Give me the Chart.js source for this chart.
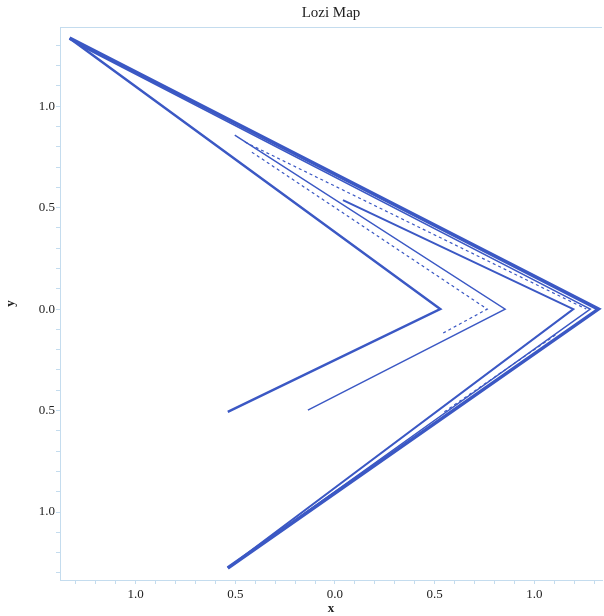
<!DOCTYPE html>
<html>
<head>
<meta charset="utf-8">
<title>Lozi Map</title>
<script src="https://cdn.jsdelivr.net/npm/chart.js@4/dist/chart.umd.min.js"></script>
<style>
  html, body { margin: 0; padding: 0; background: #fff; }
  #wrap { width: 604px; height: 616px; }
</style>
</head>
<body>
<div id="wrap"><canvas id="lozi" width="604" height="616"></canvas></div>
<script>
// strands of the attractor as [x, y]
var outerArm   = [[-1.332, 1.335], [1.322, 0], [-0.538, -1.276]];
var outerArm2  = [[-1.281, 1.300], [1.281, 0], [-0.523, -1.266]];
var innerArm   = [[-1.332, 1.335], [0.528, 0], [-0.538, -0.507]];
var midArm     = [[0.040, 0.537], [1.196, 0], [-0.538, -1.276]];
var thinArm    = [[-0.503, 0.857], [0.854, 0], [-0.136, -0.498]];
var dashedArm  = [[-0.417, 0.773], [0.764, 0], [0.543, -0.118]];
var topDashed  = [[-0.452, 0.823], [1.261, 0]];
var lowDashed  = [[1.106, -0.128], [0.548, -0.507]];

var xRange = [-1.38, 1.34];
var yRange = [-1.335, 1.39];
var labelStep = 0.5;

!function() {
    "use strict";

    var blue = "#3b58c4";
    var axisBlue = "#c4dcee";
    var serif = "'Liberation Serif', 'DejaVu Serif', serif";

    function pts(arr) {
        return arr.map(function(p) { return {x: p[0], y: p[1]}; });
    }

    function strand(arr, width, dash) {
        return {
            data: pts(arr),
            showLine: true,
            borderColor: blue,
            backgroundColor: blue,
            borderWidth: width,
            borderDash: dash || [],
            pointRadius: 0,
            tension: 0
        };
    }

    function tickLabel(v) {
        var k = v / labelStep;
        if (Math.abs(k - Math.round(k)) < 1e-6) return Math.abs(v).toFixed(1);
        return "";
    }

    // title centred over the plot area, plus the thin top frame line
    var framePlugin = {
        id: "frame",
        afterDraw: function(chart) {
            var ctx = chart.ctx, a = chart.chartArea;
            ctx.save();
            ctx.strokeStyle = axisBlue;
            ctx.lineWidth = 1;
            ctx.beginPath();
            ctx.moveTo(a.left, a.top + 0.5);
            ctx.lineTo(a.right, a.top + 0.5);
            ctx.stroke();
            ctx.fillStyle = "#222";
            ctx.font = "15px " + serif;
            ctx.textAlign = "center";
            ctx.textBaseline = "middle";
            ctx.fillText("Lozi Map", (a.left + a.right) / 2, 13);
            ctx.restore();
        }
    };

    new Chart(document.getElementById("lozi").getContext("2d"), {
        type: "scatter",
        data: {
            datasets: [
                strand(outerArm, 3.5),
                strand(outerArm2, 1.5),
                strand(innerArm, 2.5),
                strand(midArm, 2),
                strand(thinArm, 1.4),
                strand(dashedArm, 1.2, [3, 3]),
                strand(topDashed, 1.2, [3, 3]),
                strand(lowDashed, 1.2, [3, 3])
            ]
        },
        options: {
            responsive: false,
            animation: false,
            layout: { padding: { top: 27, right: 2, left: 0, bottom: 0 } },
            plugins: {
                legend: { display: false },
                tooltip: { enabled: false },
                title: { display: false }
            },
            scales: {
                x: {
                    type: "linear",
                    min: xRange[0],
                    max: xRange[1],
                    border: { color: axisBlue, width: 1 },
                    grid: { drawOnChartArea: false, color: axisBlue, tickLength: 4 },
                    ticks: {
                        stepSize: 0.1,
                        includeBounds: false,
                        autoSkip: false,
                        maxRotation: 0,
                        color: "#222",
                        font: { family: serif, size: 13 },
                        padding: 3,
                        callback: tickLabel
                    },
                    title: {
                        display: true,
                        text: "x",
                        color: "#222",
                        font: { family: serif, size: 13, weight: "bold" },
                        padding: { top: 0, bottom: 0 }
                    },
                    afterFit: function(s) { s.height = 36; }
                },
                y: {
                    type: "linear",
                    min: yRange[0],
                    max: yRange[1],
                    border: { color: axisBlue, width: 1 },
                    grid: { drawOnChartArea: false, color: axisBlue, tickLength: 4 },
                    ticks: {
                        stepSize: 0.1,
                        includeBounds: false,
                        autoSkip: false,
                        color: "#222",
                        font: { family: serif, size: 13 },
                        padding: 1,
                        callback: tickLabel
                    },
                    title: {
                        display: true,
                        text: "y",
                        color: "#222",
                        font: { family: serif, size: 13, weight: "bold" },
                        padding: { top: 3, bottom: 11 }
                    },
                    afterFit: function(s) { s.width = 60; }
                }
            }
        },
        plugins: [framePlugin]
    });
}();
</script>
</body>
</html>
